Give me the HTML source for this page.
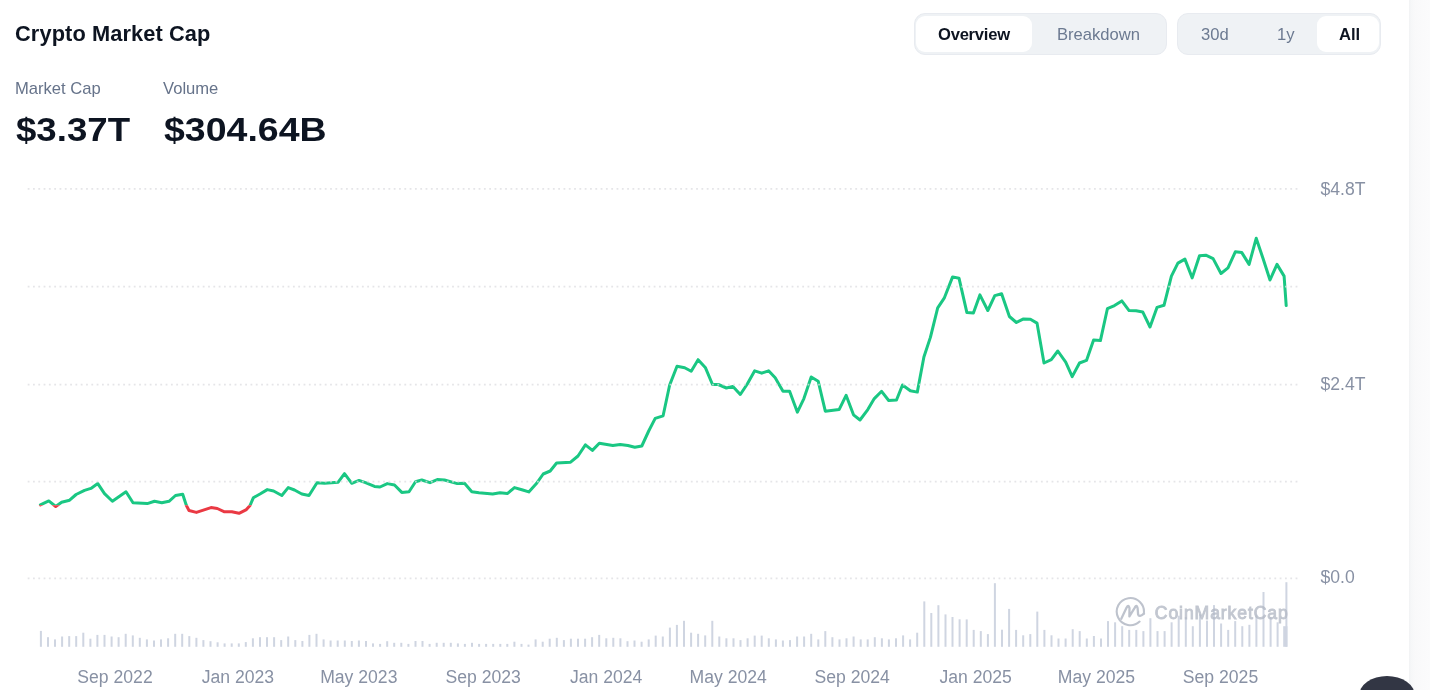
<!DOCTYPE html>
<html><head><meta charset="utf-8">
<style>
html,body{margin:0;padding:0;background:#fff;}
body{width:1430px;height:690px;overflow:hidden;position:relative;font-family:"Liberation Sans",sans-serif;}
.abs{position:absolute;white-space:nowrap;line-height:1;will-change:transform;}
.title{left:15.3px;top:22.5px;font-size:21.8px;font-weight:bold;color:#0d1421;letter-spacing:0.1px;}
.lbl{top:81.3px;font-size:16.6px;color:#66738a;}
.val{top:111.9px;font-size:34.1px;font-weight:bold;color:#0d1421;}
.pill{position:absolute;top:13px;height:42px;background:#eff2f5;border-radius:11px;box-sizing:border-box;border:1px solid #e8ebf0;}
.btn{position:absolute;top:16px;height:36px;background:#fff;border-radius:9px;}
.bt{position:absolute;will-change:transform;top:26.5px;font-size:16.6px;line-height:1;white-space:nowrap;}
.on{color:#0d1421;font-weight:bold;}
.off{color:#6c7a91;}
.strip{position:absolute;left:1408.5px;top:0;width:21.5px;height:690px;background:linear-gradient(to right,#f1f2f4 0,#f6f7f8 2px,#f9f9fa 6px,#fbfbfc 100%);}
.fab{position:absolute;left:1359.3px;top:676px;width:56px;height:40px;border-radius:28px 28px 28px 28px / 20px 20px 20px 20px;background:#323644;}
svg{position:absolute;left:0;top:0;will-change:transform;}
</style></head><body>
<div class="abs title">Crypto Market Cap</div>
<div class="abs lbl" style="left:14.5px">Market Cap</div>
<div class="abs lbl" style="left:163px">Volume</div>
<div class="abs val" style="left:15.9px;transform:scaleX(1.075);transform-origin:0 0">$3.37T</div>
<div class="abs val" style="left:163.5px;transform:scaleX(1.10);transform-origin:0 0">$304.64B</div>

<div class="pill" style="left:914px;width:252.5px"></div>
<div class="btn" style="left:916.3px;width:116.2px"></div>
<div class="bt on" style="left:938px;letter-spacing:-0.25px">Overview</div>
<div class="bt off" style="left:1057px">Breakdown</div>

<div class="pill" style="left:1176.6px;width:204.7px"></div>
<div class="btn" style="left:1317px;width:61.7px"></div>
<div class="bt off" style="left:1200.6px">30d</div>
<div class="bt off" style="left:1277px">1y</div>
<div class="bt on" style="left:1338.8px">All</div>

<svg width="1430" height="690" viewBox="0 0 1430 690">
<defs>
<clipPath id="up"><rect x="0" y="0" width="1430" height="505.2"/></clipPath>
<clipPath id="dn"><rect x="0" y="505.2" width="1430" height="690"/></clipPath>
</defs>
<g fill="#cfd5e1">
<rect x="39.9" y="630.9" width="2" height="15.9"/>
<rect x="47" y="637.2" width="2" height="9.6"/>
<rect x="54" y="639.4" width="2" height="7.4"/>
<rect x="61.1" y="636.5" width="2" height="10.3"/>
<rect x="68.2" y="636.1" width="2" height="10.7"/>
<rect x="75.2" y="636.1" width="2" height="10.7"/>
<rect x="82.3" y="632.7" width="2" height="14.1"/>
<rect x="89.4" y="638.7" width="2" height="8.1"/>
<rect x="96.4" y="634.9" width="2" height="11.9"/>
<rect x="103.5" y="634.9" width="2" height="11.9"/>
<rect x="110.6" y="636.5" width="2" height="10.3"/>
<rect x="117.6" y="637.2" width="2" height="9.6"/>
<rect x="124.7" y="633.8" width="2" height="13"/>
<rect x="131.8" y="635.4" width="2" height="11.4"/>
<rect x="138.8" y="637.8" width="2" height="9"/>
<rect x="145.9" y="639.4" width="2" height="7.4"/>
<rect x="153" y="640.5" width="2" height="6.3"/>
<rect x="160" y="639.4" width="2" height="7.4"/>
<rect x="167.1" y="638.3" width="2" height="8.5"/>
<rect x="174.2" y="633.8" width="2" height="13"/>
<rect x="181.2" y="633.8" width="2" height="13"/>
<rect x="188.3" y="636.1" width="2" height="10.7"/>
<rect x="195.4" y="637.8" width="2" height="9"/>
<rect x="202.4" y="640.1" width="2" height="6.7"/>
<rect x="209.5" y="641.2" width="2" height="5.6"/>
<rect x="216.6" y="642.3" width="2" height="4.5"/>
<rect x="223.6" y="643.4" width="2" height="3.4"/>
<rect x="230.7" y="643.4" width="2" height="3.4"/>
<rect x="237.8" y="643.4" width="2" height="3.4"/>
<rect x="244.8" y="642.1" width="2" height="4.7"/>
<rect x="251.9" y="638.3" width="2" height="8.5"/>
<rect x="259" y="637.2" width="2" height="9.6"/>
<rect x="266" y="637.2" width="2" height="9.6"/>
<rect x="273.1" y="637.2" width="2" height="9.6"/>
<rect x="280.2" y="640.1" width="2" height="6.7"/>
<rect x="287.2" y="636.5" width="2" height="10.3"/>
<rect x="294.3" y="640.1" width="2" height="6.7"/>
<rect x="301.4" y="641" width="2" height="5.8"/>
<rect x="308.4" y="634.9" width="2" height="11.9"/>
<rect x="315.5" y="633.8" width="2" height="13"/>
<rect x="322.6" y="639.4" width="2" height="7.4"/>
<rect x="329.6" y="640.5" width="2" height="6.3"/>
<rect x="336.7" y="640.5" width="2" height="6.3"/>
<rect x="343.8" y="640.5" width="2" height="6.3"/>
<rect x="350.8" y="641" width="2" height="5.8"/>
<rect x="357.9" y="640.5" width="2" height="6.3"/>
<rect x="365" y="641" width="2" height="5.8"/>
<rect x="372" y="643.4" width="2" height="3.4"/>
<rect x="379.1" y="643.9" width="2" height="2.9"/>
<rect x="386.2" y="641.2" width="2" height="5.6"/>
<rect x="393.2" y="642.8" width="2" height="4"/>
<rect x="400.3" y="642.8" width="2" height="4"/>
<rect x="407.4" y="643.9" width="2" height="2.9"/>
<rect x="414.5" y="641" width="2" height="5.8"/>
<rect x="421.5" y="641" width="2" height="5.8"/>
<rect x="428.6" y="643.9" width="2" height="2.9"/>
<rect x="435.7" y="642.8" width="2" height="4"/>
<rect x="442.7" y="642.8" width="2" height="4"/>
<rect x="449.8" y="642.8" width="2" height="4"/>
<rect x="456.9" y="643.4" width="2" height="3.4"/>
<rect x="463.9" y="643.9" width="2" height="2.9"/>
<rect x="471" y="642.8" width="2" height="4"/>
<rect x="478.1" y="643.9" width="2" height="2.9"/>
<rect x="485.1" y="643.9" width="2" height="2.9"/>
<rect x="492.2" y="643.9" width="2" height="2.9"/>
<rect x="499.3" y="643.9" width="2" height="2.9"/>
<rect x="506.3" y="643.9" width="2" height="2.9"/>
<rect x="513.4" y="641.7" width="2" height="5.1"/>
<rect x="520.5" y="643.9" width="2" height="2.9"/>
<rect x="527.5" y="644.6" width="2" height="2.2"/>
<rect x="534.6" y="639.4" width="2" height="7.4"/>
<rect x="541.7" y="641.7" width="2" height="5.1"/>
<rect x="548.7" y="638.7" width="2" height="8.1"/>
<rect x="555.8" y="637.8" width="2" height="9"/>
<rect x="562.9" y="640.1" width="2" height="6.7"/>
<rect x="569.9" y="638.7" width="2" height="8.1"/>
<rect x="577" y="638.7" width="2" height="8.1"/>
<rect x="584.1" y="638.7" width="2" height="8.1"/>
<rect x="591.1" y="637.2" width="2" height="9.6"/>
<rect x="598.2" y="634.9" width="2" height="11.9"/>
<rect x="605.3" y="638.3" width="2" height="8.5"/>
<rect x="612.3" y="637.8" width="2" height="9"/>
<rect x="619.4" y="638.3" width="2" height="8.5"/>
<rect x="626.5" y="641.2" width="2" height="5.6"/>
<rect x="633.5" y="640.5" width="2" height="6.3"/>
<rect x="640.6" y="641.7" width="2" height="5.1"/>
<rect x="647.7" y="639.4" width="2" height="7.4"/>
<rect x="654.7" y="635.6" width="2" height="11.2"/>
<rect x="661.8" y="636.5" width="2" height="10.3"/>
<rect x="668.9" y="627.6" width="2" height="19.2"/>
<rect x="675.9" y="624.9" width="2" height="21.9"/>
<rect x="683" y="620.8" width="2" height="26"/>
<rect x="690.1" y="632.7" width="2" height="14.1"/>
<rect x="697.1" y="633.8" width="2" height="13"/>
<rect x="704.2" y="635.4" width="2" height="11.4"/>
<rect x="711.3" y="620.8" width="2" height="26"/>
<rect x="718.3" y="636.5" width="2" height="10.3"/>
<rect x="725.4" y="638.3" width="2" height="8.5"/>
<rect x="732.5" y="638.3" width="2" height="8.5"/>
<rect x="739.5" y="640.1" width="2" height="6.7"/>
<rect x="746.6" y="638.3" width="2" height="8.5"/>
<rect x="753.7" y="635.6" width="2" height="11.2"/>
<rect x="760.7" y="635.6" width="2" height="11.2"/>
<rect x="767.8" y="638.3" width="2" height="8.5"/>
<rect x="774.9" y="639.4" width="2" height="7.4"/>
<rect x="781.9" y="640.5" width="2" height="6.3"/>
<rect x="789" y="640.1" width="2" height="6.7"/>
<rect x="796.1" y="636.5" width="2" height="10.3"/>
<rect x="803.1" y="636.5" width="2" height="10.3"/>
<rect x="810.2" y="633.8" width="2" height="13"/>
<rect x="817.3" y="639.4" width="2" height="7.4"/>
<rect x="824.3" y="631.1" width="2" height="15.7"/>
<rect x="831.4" y="637.2" width="2" height="9.6"/>
<rect x="838.5" y="639.4" width="2" height="7.4"/>
<rect x="845.5" y="638.3" width="2" height="8.5"/>
<rect x="852.6" y="636.5" width="2" height="10.3"/>
<rect x="859.7" y="639.4" width="2" height="7.4"/>
<rect x="866.7" y="639.4" width="2" height="7.4"/>
<rect x="873.8" y="637.2" width="2" height="9.6"/>
<rect x="880.9" y="638.3" width="2" height="8.5"/>
<rect x="887.9" y="639.4" width="2" height="7.4"/>
<rect x="895" y="638.3" width="2" height="8.5"/>
<rect x="902.1" y="635.4" width="2" height="11.4"/>
<rect x="909.1" y="639.4" width="2" height="7.4"/>
<rect x="916.2" y="632.7" width="2" height="14.1"/>
<rect x="923.3" y="601.4" width="2" height="45.4"/>
<rect x="930.3" y="613" width="2" height="33.8"/>
<rect x="937.4" y="605.2" width="2" height="41.6"/>
<rect x="944.5" y="614.4" width="2" height="32.4"/>
<rect x="951.5" y="617" width="2" height="29.8"/>
<rect x="958.6" y="619.3" width="2" height="27.5"/>
<rect x="965.7" y="619.4" width="2" height="27.4"/>
<rect x="972.7" y="629.9" width="2" height="16.9"/>
<rect x="979.8" y="631.1" width="2" height="15.7"/>
<rect x="986.9" y="634.1" width="2" height="12.7"/>
<rect x="993.9" y="583.2" width="2" height="63.6"/>
<rect x="1001" y="629.7" width="2" height="17.1"/>
<rect x="1008.1" y="608.9" width="2" height="37.9"/>
<rect x="1015.1" y="629.9" width="2" height="16.9"/>
<rect x="1022.2" y="635.3" width="2" height="11.5"/>
<rect x="1029.3" y="634.1" width="2" height="12.7"/>
<rect x="1036.3" y="611.6" width="2" height="35.2"/>
<rect x="1043.4" y="629.9" width="2" height="16.9"/>
<rect x="1050.5" y="635.3" width="2" height="11.5"/>
<rect x="1057.5" y="638.5" width="2" height="8.3"/>
<rect x="1064.6" y="638.5" width="2" height="8.3"/>
<rect x="1071.7" y="629.2" width="2" height="17.6"/>
<rect x="1078.7" y="631.1" width="2" height="15.7"/>
<rect x="1085.8" y="638.5" width="2" height="8.3"/>
<rect x="1092.9" y="636" width="2" height="10.8"/>
<rect x="1100" y="638.5" width="2" height="8.3"/>
<rect x="1107" y="621.1" width="2" height="25.7"/>
<rect x="1114.1" y="622.3" width="2" height="24.5"/>
<rect x="1121.2" y="626.2" width="2" height="20.6"/>
<rect x="1128.2" y="629.9" width="2" height="16.9"/>
<rect x="1135.3" y="629.9" width="2" height="16.9"/>
<rect x="1142.4" y="631.1" width="2" height="15.7"/>
<rect x="1149.4" y="618.2" width="2" height="28.6"/>
<rect x="1156.5" y="631.1" width="2" height="15.7"/>
<rect x="1163.6" y="631.1" width="2" height="15.7"/>
<rect x="1170.6" y="622.3" width="2" height="24.5"/>
<rect x="1177.7" y="615.7" width="2" height="31.1"/>
<rect x="1184.8" y="616.9" width="2" height="29.9"/>
<rect x="1191.8" y="626.2" width="2" height="20.6"/>
<rect x="1198.9" y="614.5" width="2" height="32.3"/>
<rect x="1206" y="620.6" width="2" height="26.2"/>
<rect x="1213" y="605.1" width="2" height="41.7"/>
<rect x="1220.1" y="623.5" width="2" height="23.3"/>
<rect x="1227.2" y="629.9" width="2" height="16.9"/>
<rect x="1234.2" y="621.1" width="2" height="25.7"/>
<rect x="1241.3" y="626.2" width="2" height="20.6"/>
<rect x="1248.4" y="624.8" width="2" height="22"/>
<rect x="1255.4" y="614.5" width="2" height="32.3"/>
<rect x="1262.5" y="592" width="2" height="54.8"/>
<rect x="1269.6" y="616.9" width="2" height="29.9"/>
<rect x="1276.6" y="622.3" width="2" height="24.5"/>
<rect x="1283.2" y="626.2" width="4.2" height="20.6"/>
<rect x="1285.4" y="582.2" width="2" height="64.6"/>
</g>
<g opacity="0.85" fill="none" stroke="#b3b9c5" stroke-width="2.1" stroke-linecap="round" stroke-linejoin="round">
<path d="M1139.6 621.6 A13.6 13.6 0 1 1 1143.8 613.6"/>
<path d="M1121.3 618.7 L1126.6 607.6 Q1128.4 604.2 1129.5 608 L1129.4 616.4 L1134.8 607.6 Q1136.6 604.2 1137.6 608 L1138.1 614.4 Q1139 617.8 1144 613.6" stroke-width="2.3"/>
</g>
<text x="1154.8" y="618.6" font-family="Liberation Sans" font-size="17.6" letter-spacing="0.9" fill="#b3b9c5" stroke="#b3b9c5" stroke-width="0.9" opacity="0.8">CoinMarketCap</text>
<g fill="none" stroke-width="3" stroke-linejoin="round" stroke-linecap="round">
<path d="M40.4 504.9 L48.8 500.9 L55.7 506.5 L61.6 502.3 L69.6 500.2 L76.1 494.5 L84.5 490.4 L90.9 488.4 L97.8 483.6 L104.5 493.6 L112.4 501.3 L126 491.8 L133 502.7 L147.3 503.6 L154.5 501.3 L161.8 502.7 L169 501.3 L175.5 495.5 L182.7 494.2 L186.4 505.5 L189 510.5 L196.4 512.4 L211 507.6 L217.3 508.5 L224.5 511.8 L231.8 511.8 L239 513.3 L246.4 509.6 L250 505.5 L253.3 497.8 L260 494 L267.3 489.6 L273.6 491 L281.8 495.5 L288.2 487.6 L294.5 490 L301.8 494 L309 495.5 L317 482.7 L324.5 483.3 L338.2 482.2 L344.5 473.6 L351.8 483.3 L359 480.4 L365.5 482.7 L374.5 486.4 L380 487 L387.3 483.6 L394.5 485 L401.8 492.4 L409 491.8 L415.5 481.8 L421.8 480 L430 482.7 L437.3 479.6 L444.5 480 L457.3 483.6 L464.5 483.3 L471.8 491.8 L479 492.7 L492.7 494 L500 492.7 L507.3 493.6 L514.5 487.6 L522.7 490 L528.8 491.9 L536.2 483.8 L543.2 474 L550.2 471 L556.6 463 L570.6 462.2 L578 456 L585.4 444.8 L592.4 450.4 L599.3 443.2 L612.8 445.5 L620.2 444.4 L627.9 445.5 L634.8 447.2 L641.8 446 L648.7 431 L655.2 418.4 L663.1 415.8 L669.6 385.2 L677 366.2 L684.7 367.8 L691.2 371.3 L698.1 359.7 L705.5 367.8 L712.5 384.5 L718.3 384.5 L726.4 388 L732.9 386.4 L740.3 394.5 L747.3 384 L754.7 370.8 L761.7 373.2 L768.6 370.8 L775.2 377.8 L783 391.3 L789.6 391.3 L797.4 412.2 L803.9 398.6 L811.2 377 L818.2 381.2 L825.3 411.2 L839.1 409.6 L846.1 395.3 L853.5 414.8 L860 420 L867.8 409.6 L874.3 398.6 L881.6 391.3 L888.7 400.5 L896.5 400 L902.5 385 L910.3 390.8 L917.3 392.1 L923.9 357 L930.4 337.4 L937.7 307.9 L944.2 298.2 L952.6 276.9 L959 278.2 L966.9 312.6 L973.4 313.1 L979.9 294.9 L987.8 310.5 L994.8 295.6 L1001.6 293.8 L1009.4 316.5 L1016.4 322.5 L1023 319.1 L1030.4 319.2 L1037 323.1 L1044 363 L1051.3 359.6 L1057.8 351 L1065.7 362.2 L1072.2 376.6 L1079.5 363 L1086.5 360.4 L1093.6 340 L1100.4 340.6 L1107.4 308.7 L1114.5 305.6 L1121.8 300.9 L1129.1 310.6 L1136.1 310.8 L1142.7 311.9 L1150 327 L1157 307.4 L1164 305.3 L1171.4 276.1 L1177.9 263.1 L1184.9 259.1 L1192.2 277.9 L1199.5 255.8 L1205.8 255.2 L1213.1 258.6 L1221 273.5 L1228 267.8 L1235.3 251.8 L1241.8 252.6 L1249.1 264.4 L1256.2 238.3 L1263.2 259.1 L1270 280 L1277 264.4 L1284.1 276.1 L1286.2 305.6" stroke="#1ac783" clip-path="url(#up)"/>
<path d="M40.4 504.9 L48.8 500.9 L55.7 506.5 L61.6 502.3 L69.6 500.2 L76.1 494.5 L84.5 490.4 L90.9 488.4 L97.8 483.6 L104.5 493.6 L112.4 501.3 L126 491.8 L133 502.7 L147.3 503.6 L154.5 501.3 L161.8 502.7 L169 501.3 L175.5 495.5 L182.7 494.2 L186.4 505.5 L189 510.5 L196.4 512.4 L211 507.6 L217.3 508.5 L224.5 511.8 L231.8 511.8 L239 513.3 L246.4 509.6 L250 505.5 L253.3 497.8 L260 494 L267.3 489.6 L273.6 491 L281.8 495.5 L288.2 487.6 L294.5 490 L301.8 494 L309 495.5 L317 482.7 L324.5 483.3 L338.2 482.2 L344.5 473.6 L351.8 483.3 L359 480.4 L365.5 482.7 L374.5 486.4 L380 487 L387.3 483.6 L394.5 485 L401.8 492.4 L409 491.8 L415.5 481.8 L421.8 480 L430 482.7 L437.3 479.6 L444.5 480 L457.3 483.6 L464.5 483.3 L471.8 491.8 L479 492.7 L492.7 494 L500 492.7 L507.3 493.6 L514.5 487.6 L522.7 490 L528.8 491.9 L536.2 483.8 L543.2 474 L550.2 471 L556.6 463 L570.6 462.2 L578 456 L585.4 444.8 L592.4 450.4 L599.3 443.2 L612.8 445.5 L620.2 444.4 L627.9 445.5 L634.8 447.2 L641.8 446 L648.7 431 L655.2 418.4 L663.1 415.8 L669.6 385.2 L677 366.2 L684.7 367.8 L691.2 371.3 L698.1 359.7 L705.5 367.8 L712.5 384.5 L718.3 384.5 L726.4 388 L732.9 386.4 L740.3 394.5 L747.3 384 L754.7 370.8 L761.7 373.2 L768.6 370.8 L775.2 377.8 L783 391.3 L789.6 391.3 L797.4 412.2 L803.9 398.6 L811.2 377 L818.2 381.2 L825.3 411.2 L839.1 409.6 L846.1 395.3 L853.5 414.8 L860 420 L867.8 409.6 L874.3 398.6 L881.6 391.3 L888.7 400.5 L896.5 400 L902.5 385 L910.3 390.8 L917.3 392.1 L923.9 357 L930.4 337.4 L937.7 307.9 L944.2 298.2 L952.6 276.9 L959 278.2 L966.9 312.6 L973.4 313.1 L979.9 294.9 L987.8 310.5 L994.8 295.6 L1001.6 293.8 L1009.4 316.5 L1016.4 322.5 L1023 319.1 L1030.4 319.2 L1037 323.1 L1044 363 L1051.3 359.6 L1057.8 351 L1065.7 362.2 L1072.2 376.6 L1079.5 363 L1086.5 360.4 L1093.6 340 L1100.4 340.6 L1107.4 308.7 L1114.5 305.6 L1121.8 300.9 L1129.1 310.6 L1136.1 310.8 L1142.7 311.9 L1150 327 L1157 307.4 L1164 305.3 L1171.4 276.1 L1177.9 263.1 L1184.9 259.1 L1192.2 277.9 L1199.5 255.8 L1205.8 255.2 L1213.1 258.6 L1221 273.5 L1228 267.8 L1235.3 251.8 L1241.8 252.6 L1249.1 264.4 L1256.2 238.3 L1263.2 259.1 L1270 280 L1277 264.4 L1284.1 276.1 L1286.2 305.6" stroke="#ea3943" clip-path="url(#dn)"/>
</g>
<g stroke="#dedee1" stroke-opacity="0.78" stroke-width="1.8" stroke-dasharray="1.8 3.505">
<line x1="27.7" y1="188.8" x2="1298" y2="188.8"/>
<line x1="27.7" y1="286.6" x2="1298" y2="286.6"/>
<line x1="27.7" y1="384.6" x2="1298" y2="384.6"/>
<line x1="27.7" y1="481.6" x2="1298" y2="481.6"/>
<line x1="27.7" y1="578.4" x2="1298" y2="578.4"/>
</g>
<g font-family="Liberation Sans" font-size="17.6" fill="#8891a4">
<text x="115.0" y="682.7" text-anchor="middle">Sep 2022</text>
<text x="237.9" y="682.7" text-anchor="middle">Jan 2023</text>
<text x="358.8" y="682.7" text-anchor="middle">May 2023</text>
<text x="483.2" y="682.7" text-anchor="middle">Sep 2023</text>
<text x="606.1" y="682.7" text-anchor="middle">Jan 2024</text>
<text x="728.2" y="682.7" text-anchor="middle">May 2024</text>
<text x="852.2" y="682.7" text-anchor="middle">Sep 2024</text>
<text x="975.6" y="682.7" text-anchor="middle">Jan 2025</text>
<text x="1096.5" y="682.7" text-anchor="middle">May 2025</text>
<text x="1220.5" y="682.7" text-anchor="middle">Sep 2025</text>
<text x="1320.5" y="195.0">$4.8T</text>
<text x="1320.5" y="390.0">$2.4T</text>
<text x="1320.5" y="583.1">$0.0</text>
</g>
</svg>
<div class="strip"></div>
<div class="fab"></div>
</body></html>
